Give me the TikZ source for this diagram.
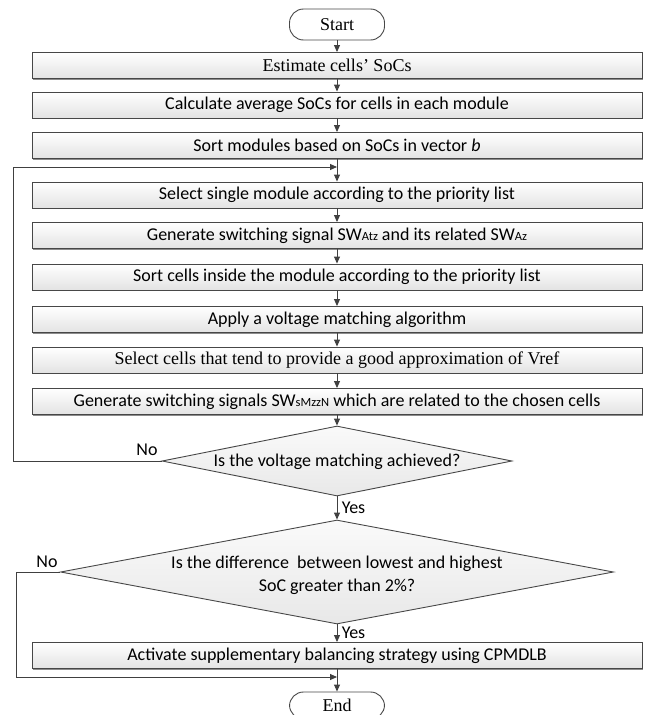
\documentclass[tikz,border=0pt]{standalone}
\usepackage{fontspec}
\setmainfont{Liberation Serif}
\newfontfamily\calib{Carlito}
\usetikzlibrary{shapes.geometric,shadows,arrows.meta}
\newcommand\subsm[1]{\raisebox{-0.6pt}{\fontsize{12.5}{12.5}\selectfont #1}}
\begin{document}
\begin{tikzpicture}[x=1pt,y=-1pt,
  line width=0.9pt,
  procbox/.style={draw=black!72, minimum width=610pt, minimum height=26pt, inner sep=0pt,
    top color=white, bottom color=black!11,
    drop shadow={shadow xshift=1.2pt, shadow yshift=-1.4pt, fill=black!45, opacity=1},
    font=\calib\fontsize{18}{20}\selectfont},
  serif/.style={font=\fontsize{18}{20}\selectfont},
  term/.style={draw=black!72, rounded corners=14pt, minimum width=95pt, minimum height=31pt,
    fill=white, inner sep=0pt, font=\fontsize{18}{20}\selectfont},
  decision/.style={diamond, draw=black!72, inner sep=0pt, top color=black!2, bottom color=black!9},
  dtext/.style={font=\calib\fontsize{18}{23}\selectfont, align=center},
  lbl/.style={font=\calib\fontsize{18}{20}\selectfont},
  arr/.style={draw=black!75, -{Triangle[length=7pt,width=6pt]}},
]
\useasboundingbox (0,0) rectangle (647,715);
\clip (0,0) rectangle (647,715);

\node[term] (st) at (337,24.5) {Start};
\node[procbox, serif] (b1) at (337,65.5) {Estimate cells' SoCs};
\node[procbox] (b2) at (337,105) {Calculate average SoCs for cells in each module};
\node[procbox] (b3) at (337,145.5) {Sort modules based on SoCs in vector \textit{b}};
\node[procbox] (b4) at (337,195) {Select single module according to the priority list};
\node[procbox] (b5) at (337,235.5) {Generate switching signal SW\subsm{Atz} and its related SW\subsm{Az}};
\node[procbox] (b6) at (337,277) {Sort cells inside the module according to the priority list};
\node[procbox] (b7) at (337,319.5) {Apply a voltage matching algorithm};
\node[procbox, serif] (b8) at (337,360) {Select cells that tend to provide a good approximation of Vref};
\node[procbox] (b9) at (337,401.5) {Generate switching signals SW\subsm{sMzzN} which are related to the chosen cells};
\node[decision, minimum width=350pt, minimum height=70pt] (d1) at (337,461) {};
\node[dtext] (d1t) at (337,462) {Is the voltage matching achieved?};
\node[decision, minimum width=553pt, minimum height=104pt] (d2) at (337,572) {};
\node[dtext] (d2t) at (337,575) {Is the difference\ \ between lowest and highest\\SoC greater than 2\%?};
\node[procbox] (b10) at (337,655.5) {Activate supplementary balancing strategy using CPMDLB};
\node[term, minimum height=27pt] (en) at (337,705.5) {End};

\coordinate (j1) at (337,167);
\coordinate (l1) at (13,461);
\coordinate (l2) at (16,572);
\coordinate (j2) at (337,677);

\draw[arr] (st) -- (b1);
\draw[arr] (b1) -- (b2);
\draw[arr] (b2) -- (b3);
\draw[arr] (b3) -- (b4);
\draw[arr] (b4) -- (b5);
\draw[arr] (b5) -- (b6);
\draw[arr] (b6) -- (b7);
\draw[arr] (b7) -- (b8);
\draw[arr] (b8) -- (b9);
\draw[arr] (b9) -- (d1);
\draw[arr] (d1.west) -- (l1) |- (j1);
\draw[arr] (d1) -- node[lbl, right, xshift=1pt] {Yes} (d2);
\draw[arr] (d2) -- node[lbl, right, xshift=1pt] {Yes} (b10);
\draw[arr] (d2.west) -- (l2) |- (j2);
\draw[arr] (b10) -- (en);

\node[lbl] (no1) at (147,450) {No};
\node[lbl] (no2) at (47,562) {No};
\end{tikzpicture}
\end{document}
